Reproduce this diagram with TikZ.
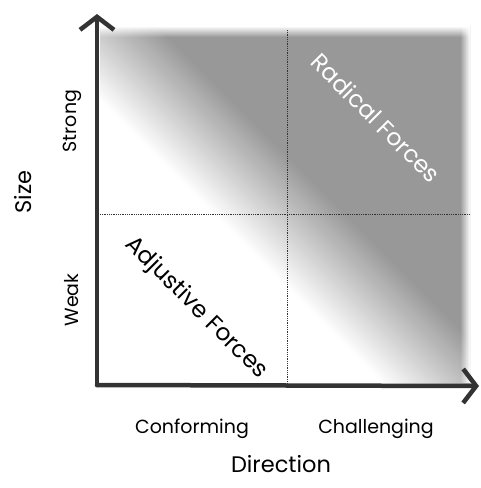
\documentclass[tikz,border=0pt]{standalone}
\usepackage{fontspec}
\setmainfont{Poppins}
\usetikzlibrary{arrows.meta,fadings}
\definecolor{quadgrey}{HTML}{989898}
\definecolor{axisgrey}{HTML}{333333}
\pgfdeclarehorizontalshading{quadshade}{100bp}{color(0bp)=(white); color(42bp)=(white); color(55bp)=(quadgrey); color(100bp)=(quadgrey)}
\begin{document}
\begin{tikzpicture}[x=1pt, y=-1pt, >={Straight Barb[length=13pt,width=34pt]},
  axis/.style={line width=4.5pt, draw=axisgrey, line cap=round},
  grid/.style={densely dotted, line width=.8pt, draw=black!80},
  small/.style={font=\fontsize{19}{22}\selectfont},
  big/.style={font=\fontsize{22.5}{26}\selectfont},
  quad/.style={font=\fontsize{23.5}{27}\selectfont, rotate=-45}]
\useasboundingbox (0,0) rectangle (480,488);
% background of the four fields
\shade[shading=quadshade, shading angle=45] (100,26) rectangle (470,383);
\fill[white, path fading=south] (100,26) rectangle (470,37);
\fill[white, path fading=west] (460,26) rectangle (470,383);
\coordinate (origin) at (97,385);
\coordinate (ytip) at (97,14);
\coordinate (xtip) at (479,386);
\coordinate (vtop) at (287,30);
\coordinate (vbot) at (287,383);
\coordinate (hleft) at (100,214);
\coordinate (hright) at (470,214);
\draw[grid] (vtop) -- (vbot);
\draw[grid] (hleft) -- (hright);

\draw[axis,->] (origin) -- (ytip);
\draw[axis,->] (origin) -- (xtip);

\node[small] (conf) at (192,429) {Conforming};
\node[small] (chal) at (376,429) {Challenging};
\node[big] (dir) at (281,464) {Direction};
\node[small, rotate=90] (strong) at (72,121) {Strong};
\node[small, rotate=90] (weak) at (72,300) {Weak};
\node[big, rotate=90] (size) at (23,192) {Size};

\node[quad, white] (radical) at (376,118) {Radical Forces};
\node[quad] (adjust) at (196,308) {Adjustive Forces};
\end{tikzpicture}
\end{document}
